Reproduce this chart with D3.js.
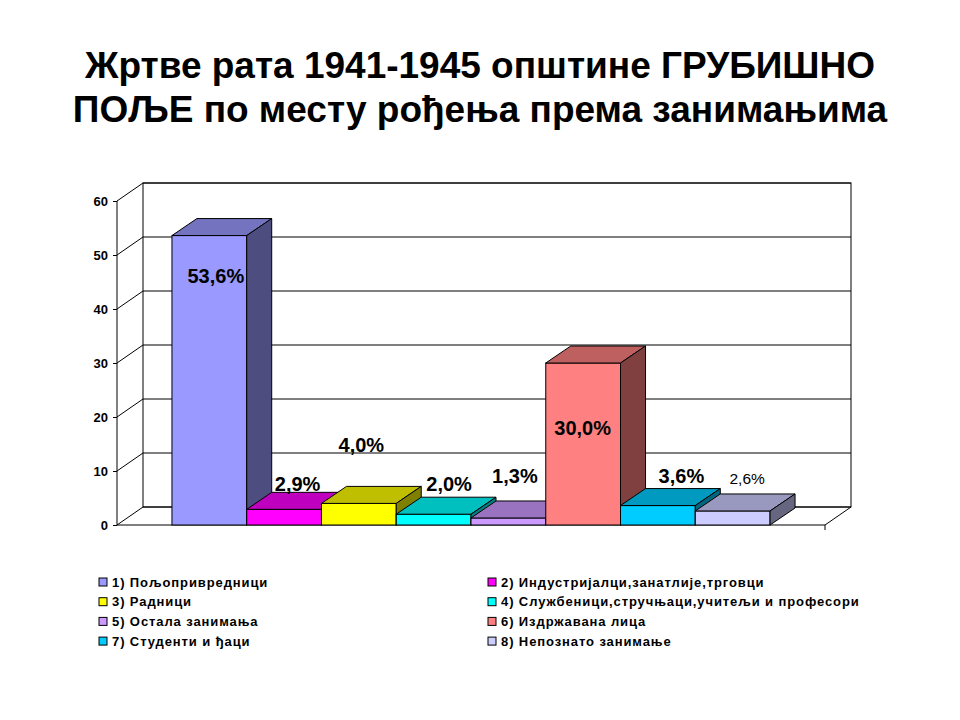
<!DOCTYPE html>
<html>
<head>
<meta charset="utf-8">
<script src="https://cdn.jsdelivr.net/npm/d3@7/dist/d3.min.js"></script>
<style>
  body { margin: 0; background: #fff; }
  text { font-family: "Liberation Sans", Arial, sans-serif; }
</style>
</head>
<body>
<svg id="chart" width="960" height="720"></svg>
<script>
// data
var titleLines = ["Жртве рата 1941-1945 општине ГРУБИШНО", "ПОЉЕ по месту рођења према занимањима"];
var categories = [
  "1) Пољопривредници",
  "2) Индустријалци,занатлије,трговци",
  "3) Радници",
  "4) Службеници,стручњаци,учитељи и професори",
  "5) Остала занимања",
  "6) Издржавана лица",
  "7) Студенти и ђаци",
  "8) Непознато занимање"
];
var values = [53.6, 2.9, 4.0, 2.0, 1.3, 30.0, 3.6, 2.6];
var valueLabels = ["53,6%", "2,9%", "4,0%", "2,0%", "1,3%", "30,0%", "3,6%", "2,6%"];
var yTicks = [0, 10, 20, 30, 40, 50, 60];
var colors = ["#9999FF", "#FF00FF", "#FFFF00", "#00FFFF", "#CC99FF", "#FF8080", "#00CCFF", "#CCCCFF"];

// label nudges (px) from the default spot above each bar
var labelNudge = [[-6, 67], [1, 2], [-10, -31], [3, -3], [-6, -15], [-13, 92], [11, -3], [2, -7]];

var svg = d3.select("#chart");

// plot geometry (front plane) and 3d depth
var pLeft = 117, pRight = 825, pBottom = 525, pTop = 201;
var dx = 26, dy = -18;        // wall depth
var bdx = 25, bdy = -17;      // bar depth

var y = d3.scaleLinear().domain([0, 60]).range([pBottom, pTop]);
var x = d3.scaleBand().domain(categories).range([pLeft, pRight]).paddingInner(0).paddingOuter(0.735);

function shade(c, k) {
  var r = d3.rgb(c);
  return d3.rgb(r.r * k, r.g * k, r.b * k).formatHex();
}

// title
svg.selectAll("text.title").data(titleLines).enter().append("text")
  .attr("class", "title")
  .attr("x", 480)
  .attr("y", function (d, i) { return 78 + i * 44; })
  .attr("text-anchor", "middle")
  .style("font-size", "37px")
  .style("font-weight", "bold")
  .text(function (d) { return d; });

// walls
var g = svg.append("g");
g.append("rect")
  .attr("x", pLeft + dx).attr("y", pTop + dy)
  .attr("width", pRight - pLeft).attr("height", pBottom - pTop)
  .attr("fill", "#fff").attr("stroke", "#000");

// back wall gridlines
g.selectAll("line.grid").data(yTicks).enter().append("line")
  .attr("class", "grid")
  .attr("x1", pLeft + dx).attr("x2", pRight + dx)
  .attr("y1", function (d) { return y(d) + dy; })
  .attr("y2", function (d) { return y(d) + dy; })
  .attr("stroke", "#000");

// side wall gridlines
g.selectAll("line.side").data(yTicks).enter().append("line")
  .attr("class", "side")
  .attr("x1", pLeft).attr("x2", pLeft + dx)
  .attr("y1", function (d) { return y(d); })
  .attr("y2", function (d) { return y(d) + dy; })
  .attr("stroke", "#000");

// floor
g.append("path")
  .attr("d", "M" + pLeft + "," + pBottom + "L" + pRight + "," + pBottom + "L" + (pRight + dx) + "," + (pBottom + dy))
  .attr("fill", "none").attr("stroke", "#000");
g.append("line")
  .attr("x1", pRight).attr("x2", pRight).attr("y1", pBottom).attr("y2", pBottom + 5)
  .attr("stroke", "#000");

// y axis
var axis = svg.append("g")
  .attr("transform", "translate(" + pLeft + ",0)")
  .call(d3.axisLeft(y).tickValues(yTicks).tickSize(4).tickPadding(5));
axis.select(".domain").attr("d", "M0," + pTop + "V" + pBottom);
axis.selectAll("text")
  .style("font-family", "'Liberation Sans', Arial, sans-serif")
  .style("font-size", "13px")
  .style("font-weight", "bold")
  .attr("fill", "#000");

// bars, drawn left to right
var bars = svg.selectAll("g.bar").data(values).enter().append("g").attr("class", "bar");
bars.each(function (v, i) {
  var b = d3.select(this);
  var x0 = x(categories[i]), w = x.bandwidth(), yt = y(v), y0 = y(0);
  b.append("rect")
    .attr("x", x0).attr("y", yt).attr("width", w).attr("height", y0 - yt)
    .attr("fill", colors[i]).attr("stroke", "#000");
  b.append("path")
    .attr("d", d3.line()([[x0, yt], [x0 + w, yt], [x0 + w + bdx, yt + bdy], [x0 + bdx, yt + bdy]]) + "Z")
    .attr("fill", shade(colors[i], 0.75)).attr("stroke", "#000");
  b.append("path")
    .attr("d", d3.line()([[x0 + w, yt], [x0 + w + bdx, yt + bdy], [x0 + w + bdx, y0 + bdy], [x0 + w, y0]]) + "Z")
    .attr("fill", shade(colors[i], 0.5)).attr("stroke", "#000");
});

// value labels
svg.selectAll("text.val").data(values).enter().append("text")
  .attr("class", "val")
  .attr("x", function (d, i) { return x(categories[i]) + x.bandwidth() / 2 + bdx / 2 + labelNudge[i][0]; })
  .attr("y", function (d, i) { return y(d) + bdy - 3 + labelNudge[i][1]; })
  .attr("text-anchor", "middle")
  .style("font-size", function (d, i) { return i === 7 ? "15.5px" : "20px"; })
  .style("font-weight", function (d, i) { return i === 7 ? "normal" : "bold"; })
  .attr("fill", "#000")
  .text(function (d, i) { return valueLabels[i]; });

// legend, two columns
var legend = svg.selectAll("g.leg").data(categories).enter().append("g")
  .attr("class", "leg")
  .attr("transform", function (d, i) {
    return "translate(" + (i % 2 ? 488 : 99) + "," + (582 + Math.floor(i / 2) * 19.7) + ")";
  });
legend.append("rect")
  .attr("x", 0).attr("y", -4).attr("width", 8).attr("height", 8)
  .attr("fill", function (d, i) { return colors[i]; })
  .attr("stroke", "#000");
legend.append("text")
  .attr("x", 13).attr("y", 4.5)
  .style("font-size", "13px")
  .style("font-weight", "bold")
  .style("letter-spacing", "0.9px")
  .text(function (d) { return d; });
</script>
</body>
</html>
